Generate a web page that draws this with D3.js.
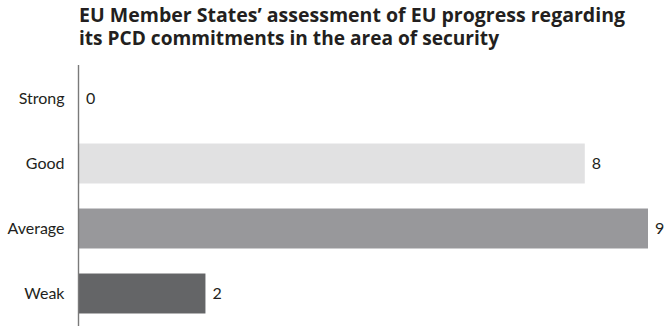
<!DOCTYPE html>
<html>
<head>
<meta charset="utf-8">
<script src="https://cdn.jsdelivr.net/npm/d3@7"></script>
<style>
  html, body { margin: 0; padding: 0; background: #fff; }
  svg { display: block; }
</style>
</head>
<body>
<svg id="chart" width="667" height="326"></svg>
<script>
// Assessment categories and the number of Member States choosing each
const categories = ["Strong", "Good", "Average", "Weak"];
const counts = [0, 8, 9, 2];
const barColors = ["#d9d9da", "#e1e1e2", "#98989b", "#646567"];
const titleLines = [
  "EU Member States\u2019 assessment of EU progress regarding",
  "its PCD commitments in the area of security"
];

const width = 667, height = 326;
const svg = d3.select("#chart");
const textColor = "#231f20";

const x = d3.scaleLinear().domain([0, 9]).range([79, 648]);
const y = d3.scaleBand().domain(categories).range([66, 326])
  .paddingInner(0.385).paddingOuter(0.1925);

// Title, two lines in heavy condensed type
const titleWidths = [546, 420];
svg.append("g").selectAll("text")
  .data(titleLines)
  .join("text")
  .attr("x", 79)
  .attr("y", (d, i) => 22 + i * 23)
  .attr("font-family", "'Open Sans', Lato, sans-serif")
  .attr("font-weight", 700)
  .attr("font-size", 19.5)
  .attr("fill", textColor)
  .attr("textLength", (d, i) => titleWidths[i])
  .attr("lengthAdjust", "spacingAndGlyphs")
  .text(d => d);

// Bars
svg.append("g").selectAll("rect")
  .data(categories)
  .join("rect")
  .attr("x", x(0))
  .attr("y", d => y(d))
  .attr("width", (d, i) => x(counts[i]) - x(0))
  .attr("height", y.bandwidth())
  .attr("fill", (d, i) => barColors[i]);

// Value labels at the end of each bar
svg.append("g").selectAll("text")
  .data(categories)
  .join("text")
  .attr("x", (d, i) => x(counts[i]) + 7)
  .attr("y", d => y(d) + y.bandwidth() / 2)
  .attr("dy", "0.35em")
  .attr("font-family", "Lato, 'Open Sans', sans-serif")
  .attr("font-size", 16)
  .attr("fill", textColor)
  .text((d, i) => counts[i]);

// Category axis on the left
const yAxis = d3.axisLeft(y).tickSize(0).tickPadding(14);
const axisG = svg.append("g")
  .attr("transform", `translate(${x(0) - 0.5},0)`)
  .call(yAxis);
axisG.select(".domain")
  .attr("d", `M0,65V326`)
  .attr("stroke", "#7a7a7a")
  .attr("stroke-width", 1.4);
axisG.selectAll(".tick text")
  .attr("font-family", "Lato, 'Open Sans', sans-serif")
  .attr("font-size", 16)
  .attr("fill", textColor);
</script>
</body>
</html>
